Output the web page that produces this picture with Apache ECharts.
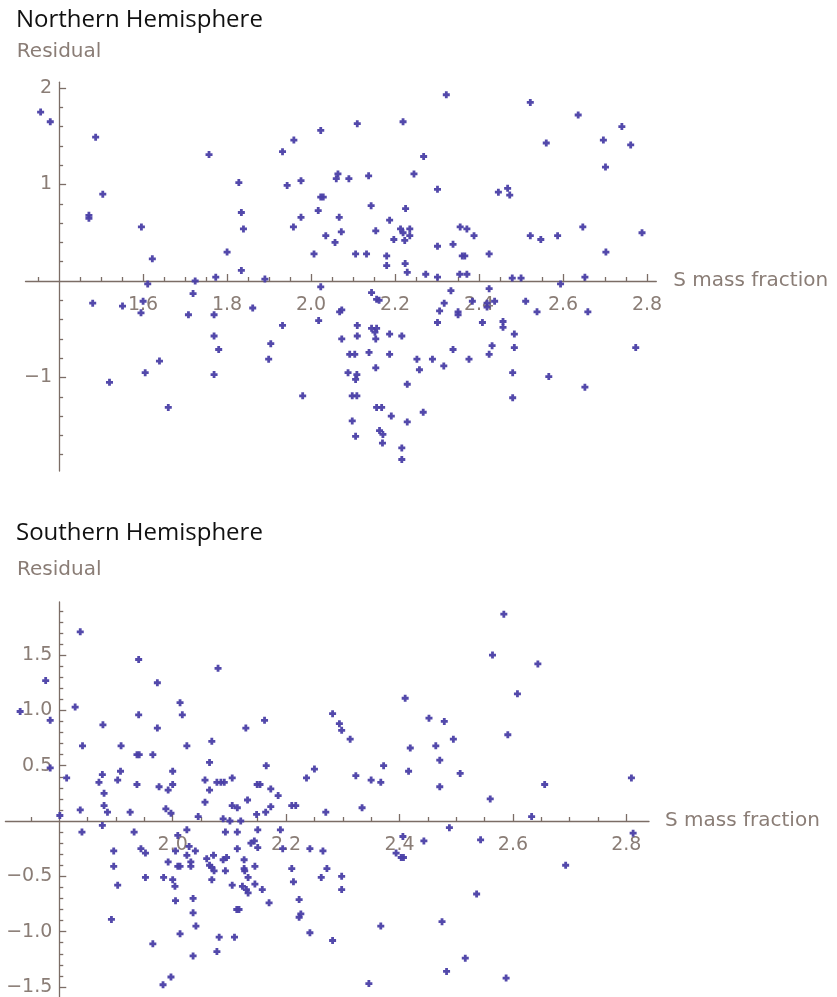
<!DOCTYPE html>
<html>
<head>
<meta charset="utf-8">
<script src="https://cdn.jsdelivr.net/npm/echarts@6/dist/echarts.min.js"></script>
<style>
  html, body { margin: 0; padding: 0; background: #ffffff; }
  #chart { width: 837px; height: 997px; }
</style>
</head>
<body>
<div id="chart"></div>
<script>
// Residuals against S mass fraction, one panel per hemisphere.

const northSMass = [
  1.356,1.379,1.487,1.757,1.932,1.959,2.023,2.110,2.219,1.828,
  1.943,1.976,2.064,2.060,2.090,2.137,2.245,1.504,1.471,1.471,
  1.596,1.834,1.839,2.023,2.029,2.017,1.976,1.958,2.067,2.143,
  2.225,2.187,2.154,2.072,2.035,2.213,2.235,2.219,2.235,2.223,
  2.197,2.057,2.322,2.522,2.268,2.301,2.446,2.468,2.473,2.007,
  2.106,2.132,2.180,2.180,2.224,2.229,2.273,2.301,2.301,2.338,
  2.355,2.371,2.388,2.360,2.366,2.354,2.371,2.424,2.479,2.500,
  2.522,2.547,2.636,2.740,2.560,2.696,2.761,2.701,2.587,2.647,
  2.788,2.702,2.594,2.652,2.333,2.424,2.317,2.306,2.350,2.350,
  2.384,2.419,2.437,2.419,2.511,2.538,2.659,2.301,2.408,2.457,
  2.457,2.484,2.216,2.484,2.431,2.424,2.338,2.252,2.258,2.289,
  2.316,2.376,2.773,2.229,2.480,2.566,2.652,2.480,2.267,2.229,
  2.216,2.216,2.023,2.144,2.156,2.162,1.932,2.018,2.068,2.073,
  2.110,2.110,2.073,2.144,2.156,2.154,2.152,2.187,2.092,2.104,
  2.138,2.187,2.154,2.088,2.109,2.106,1.980,2.098,2.109,2.156,
  2.168,2.191,2.098,2.106,2.163,2.171,2.170,1.622,1.800,1.834,
  1.773,1.724,1.890,1.480,1.551,1.600,1.595,1.611,1.719,1.708,
  1.769,1.861,1.769,1.780,1.904,1.899,1.639,1.605,1.520,1.769,
  1.660
];
const northResidual = [
  1.75,1.65,1.49,1.31,1.34,1.46,1.56,1.63,1.65,1.02,
  0.99,1.04,1.11,1.06,1.06,1.09,1.11,0.90,0.68,0.65,
  0.56,0.71,0.54,0.87,0.87,0.73,0.66,0.56,0.66,0.78,
  0.75,0.63,0.52,0.51,0.47,0.54,0.54,0.50,0.47,0.42,
  0.43,0.40,1.93,1.85,1.29,0.95,0.92,0.96,0.89,0.28,
  0.28,0.28,0.26,0.16,0.18,0.09,0.07,0.36,0.04,0.38,
  0.56,0.54,0.47,0.26,0.26,0.07,0.07,0.28,0.03,0.03,
  0.47,0.43,1.72,1.60,1.43,1.46,1.41,1.18,0.47,0.56,
  0.50,0.30,-0.03,0.04,-0.10,-0.08,-0.23,-0.31,-0.32,-0.35,
  -0.21,-0.23,-0.21,-0.27,-0.21,-0.32,-0.32,-0.43,-0.43,-0.42,
  -0.48,-0.55,-0.57,-0.69,-0.67,-0.76,-0.71,-0.81,-0.92,-0.81,
  -0.88,-0.81,-0.69,-1.07,-0.95,-0.99,-1.10,-1.21,-1.36,-1.46,
  -1.73,-1.85,-0.06,-0.12,-0.19,-0.20,-0.46,-0.41,-0.32,-0.30,
  -0.46,-0.57,-0.60,-0.49,-0.49,-0.60,-0.53,-0.55,-0.76,-0.76,
  -0.74,-0.76,-0.90,-0.95,-0.97,-1.02,-1.19,-1.19,-1.19,-1.31,
  -1.31,-1.40,-1.45,-1.61,-1.55,-1.59,-1.68,0.23,0.30,0.11,
  0.04,0.00,0.02,-0.23,-0.26,-0.21,-0.33,-0.03,-0.13,-0.35,
  -0.35,-0.28,-0.57,-0.71,-0.65,-0.81,-0.83,-0.95,-1.05,-0.97,
  -1.31
];

const southSMass = [
  1.837,1.776,1.731,1.828,1.784,1.940,1.973,2.080,2.013,2.017,
  1.940,1.877,1.973,2.129,2.162,2.282,2.294,2.298,2.313,2.410,
  2.419,1.841,1.909,2.025,2.069,2.584,2.564,2.644,2.608,2.452,
  2.479,2.495,2.591,2.464,2.471,2.416,2.507,2.471,2.560,2.656,
  2.809,2.633,2.488,2.443,2.543,2.812,2.406,2.407,2.693,2.536,
  2.475,2.516,2.483,2.588,1.784,1.813,1.937,1.941,1.965,2.065,
  2.165,2.250,2.236,2.323,2.372,2.350,2.367,1.876,1.870,1.908,
  1.903,1.879,1.879,1.885,1.837,1.801,1.937,1.925,1.976,1.992,
  2.000,2.000,1.988,1.997,2.045,2.057,2.065,2.057,2.078,2.085,
  2.091,2.105,2.105,2.114,2.089,2.101,2.120,2.132,2.149,2.154,
  2.173,2.186,2.148,2.164,2.173,2.210,2.217,2.270,2.334,1.840,
  1.876,1.896,1.896,1.903,1.892,1.932,1.944,1.952,1.952,1.965,
  1.984,1.992,2.000,2.004,2.005,2.013,1.983,1.997,2.005,2.009,
  2.025,2.009,2.013,2.025,2.029,2.040,2.032,2.032,2.036,2.036,
  2.041,2.036,2.060,2.065,2.069,2.072,2.073,2.069,2.089,2.095,
  2.093,2.093,2.114,2.114,2.105,2.113,2.117,2.082,2.109,2.078,
  2.126,2.126,2.127,2.133,2.123,2.130,2.133,2.138,2.144,2.150,
  2.150,2.145,2.145,2.158,2.170,2.190,2.194,2.210,2.213,2.223,
  2.223,2.226,2.242,2.242,2.265,2.272,2.262,2.298,2.298,2.282,
  2.346,2.367,2.394,2.403
];
const southResidual = [
  1.71,1.27,0.99,1.03,0.91,1.46,1.25,1.38,1.07,0.96,
  0.96,0.87,0.84,0.84,0.91,0.97,0.88,0.82,0.74,1.11,
  0.66,0.68,0.68,0.68,0.72,1.87,1.50,1.42,1.15,0.93,
  0.90,0.74,0.78,0.68,0.55,0.45,0.43,0.31,0.20,0.33,
  0.39,0.04,-0.06,-0.18,-0.17,-0.11,-0.14,-0.33,-0.40,-0.66,
  -0.91,-1.24,-1.36,-1.42,0.48,0.39,0.60,0.60,0.60,0.53,
  0.50,0.47,0.39,0.41,0.50,0.37,0.35,0.42,0.35,0.45,
  0.37,0.25,0.14,0.08,0.10,0.05,0.33,0.08,0.31,0.28,
  0.33,0.45,0.11,0.07,0.04,0.37,0.28,0.17,0.35,0.35,
  0.35,0.39,0.14,0.12,0.02,0.00,0.00,0.19,0.33,0.33,
  0.29,0.23,0.06,0.08,0.13,0.14,0.14,0.08,0.12,-0.10,
  -0.04,-0.27,-0.41,-0.58,-0.89,-0.10,-0.25,-0.29,-0.51,-1.11,
  -0.51,-0.37,-0.53,-0.59,-0.72,-1.02,-1.48,-1.41,-0.27,-0.13,
  -0.08,-0.41,-0.41,-0.31,-0.23,-0.27,-0.37,-0.41,-0.70,-0.83,
  -0.95,-1.22,-0.34,-0.40,-0.42,-0.31,-0.45,-0.53,-0.35,-0.33,
  -0.45,-0.10,-0.10,-0.25,-0.58,-0.80,-0.80,-1.05,-1.05,-1.18,
  -0.35,-0.43,-0.45,-0.51,-0.59,-0.62,-0.65,-0.20,-0.18,-0.24,
  -0.08,-0.41,-0.57,-0.62,-0.74,-0.08,-0.25,-0.43,-0.55,-0.71,
  -0.87,-0.84,-1.01,-0.25,-0.27,-0.43,-0.51,-0.50,-0.62,-1.08,
  -1.47,-0.95,-0.29,-0.33
];

// Labelled tick positions
const northXTicks = [1.6, 1.8, 2.0, 2.2, 2.4, 2.6, 2.8];
const northYTicks = [2, 1, -1];
const southXTicks = [2.0, 2.2, 2.4, 2.6, 2.8];
const southYTicks = [1.5, 1.0, 0.5, -0.5, -1.0, -1.5];

const titles = ['Northern Hemisphere', 'Southern Hemisphere'];
const xName = 'S mass fraction';
const yName = 'Residual';

// Unlabelled minor ticks between the labelled ones, skipping the axis crossing
function minorTicks(from, to, step, majors, crossing) {
  const out = [];
  const n = Math.round((to - from) / step);
  for (let i = 0; i <= n; i++) {
    const v = Math.round((from + i * step) * 1000) / 1000;
    if (Math.abs(v - crossing) < 1e-6) continue;
    if (majors.some(m => Math.abs(m - v) < 1e-6)) continue;
    out.push(v);
  }
  return out;
}

const AXIS_COLOR = '#7b6d66';
const LABEL_COLOR = '#8a7d76';
const POINT_COLOR = '#4a3fa6';
const LABEL_FONT = 'DejaVu Sans';
const PLUS = 'path://M1.8,0H4.2V1.8H6V4.2H4.2V6H1.8V4.2H0V1.8H1.8Z';

const fmtMinus = (digits) => (v) => (v < 0 ? '\u2212' : '') + Math.abs(v).toFixed(digits);

// Panel geometry (pixels) and axis extents
const panels = [
  {
    title: titles[0], titleY: 20.5,
    xs: northSMass, ys: northResidual,
    xMin: 1.32, xMax: 2.822, xCross: 1.4, left: 25.5, width: 630.8,
    yMin: -1.97, yMax: 2.06, top: 82.2, height: 388.9,
    xMajor: northXTicks, yMajor: northYTicks, xDigits: 1, yDigits: 0,
    xMinor: minorTicks(1.35, 2.8, 0.05, northXTicks, 1.4),
    yMinor: minorTicks(-1.8, 2.0, 0.2, northYTicks, 0),
    nameGap: 17, yNameGap: 20
  },
  {
    title: titles[1], titleY: 533.3,
    xs: southSMass, ys: southResidual,
    xMin: 1.705, xMax: 2.84, xCross: 1.8, left: 5.4, width: 643.6,
    yMin: -1.6, yMax: 1.98, top: 602, height: 396,
    xMajor: southXTicks, yMajor: southYTicks, xDigits: 1, yDigits: 1,
    xMinor: minorTicks(1.75, 2.8, 0.05, southXTicks, 1.8),
    yMinor: minorTicks(-1.5, 1.9, 0.1, southYTicks, 0),
    nameGap: 16, yNameGap: 22
  }
];

const grid = [], xAxis = [], yAxis = [], series = [], graphic = [];
const labelStyle = { color: LABEL_COLOR, fontFamily: LABEL_FONT, fontSize: 19 };
const nameStyle = { color: LABEL_COLOR, fontFamily: LABEL_FONT, fontSize: 20 };
const lineStyle = { color: AXIS_COLOR, width: 1.3 };
const noGridBounds = { containLabel: false, outerBoundsMode: 'none' };

panels.forEach((p) => {
  const crossPx = p.left + (p.xCross - p.xMin) / (p.xMax - p.xMin) * p.width;
  const zeroPx = p.top + p.yMax / (p.yMax - p.yMin) * p.height;

  // data area
  const gData = grid.length;
  grid.push({ left: p.left, top: p.top, width: p.width, height: p.height, ...noGridBounds });
  // strip whose bottom edge sits on residual = 0 (horizontal axis)
  const gX = grid.length;
  grid.push({ left: p.left, top: zeroPx - 20, width: p.width, height: 20, ...noGridBounds });
  // strip whose left edge sits on the crossing S value (vertical axis)
  const gY = grid.length;
  grid.push({ left: crossPx, top: p.top, width: 20, height: p.height, ...noGridBounds });

  const xData = xAxis.length;
  xAxis.push({ type: 'value', gridIndex: gData, min: p.xMin, max: p.xMax, show: false });
  xAxis.push({
    type: 'value', gridIndex: gX, position: 'bottom', min: p.xMin, max: p.xMax,
    axisLine: { show: true, onZero: false, lineStyle },
    axisTick: { show: true, inside: true, length: 7, customValues: p.xMajor, lineStyle },
    axisLabel: { customValues: p.xMajor, formatter: fmtMinus(p.xDigits), margin: 15, ...labelStyle },
    splitLine: { show: false },
    name: xName, nameLocation: 'end', nameGap: p.nameGap,
    nameTextStyle: { ...nameStyle, align: 'left', verticalAlign: 'middle' }
  });
  xAxis.push({
    type: 'value', gridIndex: gX, position: 'bottom', min: p.xMin, max: p.xMax,
    axisLine: { show: false, onZero: false },
    axisTick: { show: true, inside: true, length: 4, customValues: p.xMinor, lineStyle },
    axisLabel: { show: false }, splitLine: { show: false }
  });
  xAxis.push({ type: 'value', gridIndex: gY, min: 0, max: 1, show: false });

  const yData = yAxis.length;
  yAxis.push({ type: 'value', gridIndex: gData, min: p.yMin, max: p.yMax, show: false });
  yAxis.push({ type: 'value', gridIndex: gX, min: 0, max: 1, show: false });
  yAxis.push({
    type: 'value', gridIndex: gY, position: 'left', min: p.yMin, max: p.yMax,
    axisLine: { show: true, onZero: false, lineStyle },
    axisTick: { show: true, inside: true, length: 7, customValues: p.yMajor, lineStyle },
    axisLabel: { customValues: p.yMajor, formatter: fmtMinus(p.yDigits), margin: 7, ...labelStyle },
    splitLine: { show: false },
    name: yName, nameLocation: 'end', nameGap: p.yNameGap,
    nameTextStyle: nameStyle
  });
  yAxis.push({
    type: 'value', gridIndex: gY, position: 'left', min: p.yMin, max: p.yMax,
    axisLine: { show: false, onZero: false },
    axisTick: { show: true, inside: true, length: 4, customValues: p.yMinor, lineStyle },
    axisLabel: { show: false }, splitLine: { show: false }
  });

  series.push({
    type: 'scatter', xAxisIndex: xData, yAxisIndex: yData,
    data: p.xs.map((x, k) => [x, p.ys[k]]),
    symbol: PLUS, symbolSize: 7,
    itemStyle: { color: POINT_COLOR, opacity: 0.95 },
    silent: true, z: 5
  });

  graphic.push({
    type: 'text', x: 16, y: p.titleY,
    style: { text: p.title, font: '24px "Open Sans"', fill: '#111111', align: 'left', verticalAlign: 'middle' }
  });
});

const chart = echarts.init(document.getElementById('chart'), null, { renderer: 'canvas' });
chart.setOption({
  animation: false,
  backgroundColor: '#ffffff',
  grid, xAxis, yAxis, series, graphic
});
</script>
</body>
</html>
